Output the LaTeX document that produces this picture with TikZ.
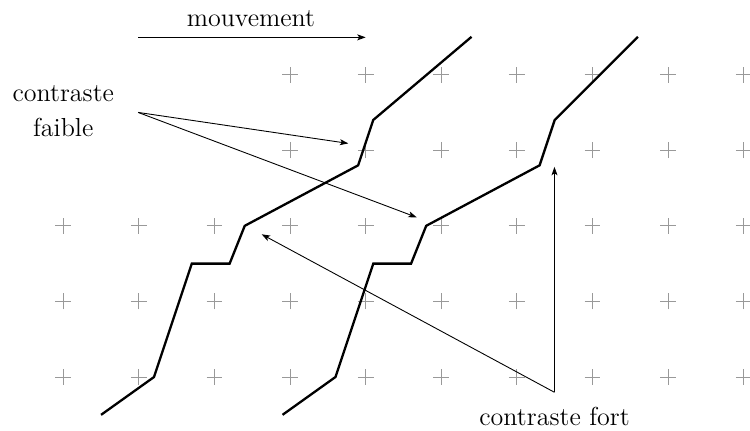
\documentclass[tikz,border=0pt]{standalone}
\usetikzlibrary{arrows.meta}
\begin{document}
\begin{tikzpicture}[x=1.5cm,y=1.5cm,
  lbl/.style={inner sep=0pt, font=\fontsize{14.7}{19.8}\selectfont},
  edge/.style={black, line width=1.3pt, line join=miter},
  pointer/.style={line width=0.5pt, -{Stealth[length=4.8pt,width=3.4pt,inset=1.2pt]}},
  pluss/.style={draw=black!40, line width=0.6pt}]
\useasboundingbox (-0.837,-0.701) rectangle (9.083,4.987);
% grid of crosses
\foreach \i in {0,...,9}{\foreach \j in {0,1,2}{
  \draw[pluss] (\i-0.105,\j) -- (\i+0.105,\j) (\i,\j-0.105) -- (\i,\j+0.105);}}
\foreach \i in {3,...,9}{\foreach \j in {3,4}{
  \draw[pluss] (\i-0.105,\j) -- (\i+0.105,\j) (\i,\j-0.105) -- (\i,\j+0.105);}}
% edges
\draw[edge] (0.5,-0.5) -- (1.2,0) -- (1.7,1.5) -- (2.2,1.5) -- (2.4,2) -- (3.9,2.8) -- (4.1,3.4) -- (5.4,4.5);
\draw[edge] (2.9,-0.5) -- (3.6,0) -- (4.1,1.5) -- (4.6,1.5) -- (4.8,2) -- (6.3,2.8) -- (6.5,3.4) -- (7.6,4.5);
% labels
\node[lbl, anchor=base] (mv) at (2.482,4.634) {mouvement};
\node[lbl, align=center] (cf) at (0,3.513) {contraste\\faible};
\node[lbl, anchor=base] (cfo) at (6.498,-0.635) {contraste fort};
% connector coordinates
\coordinate (mvs) at (0.99,4.493);
\coordinate (mve) at (4.0,4.493);
\coordinate (cfs) at (0.99,3.50);
\coordinate (cfa) at (3.77,3.09);
\coordinate (cfb) at (4.675,2.112);
\coordinate (fos) at (6.497,-0.202);
\coordinate (foa) at (6.497,2.78);
\coordinate (fob) at (2.624,1.888);
\draw[pointer] (mvs) -- (mve);
\draw[pointer] (cfs) -- (cfa);
\draw[pointer] (cfs) -- (cfb);
\draw[pointer] (fos) -- (foa);
\draw[pointer] (fos) -- (fob);
\end{tikzpicture}
\end{document}
